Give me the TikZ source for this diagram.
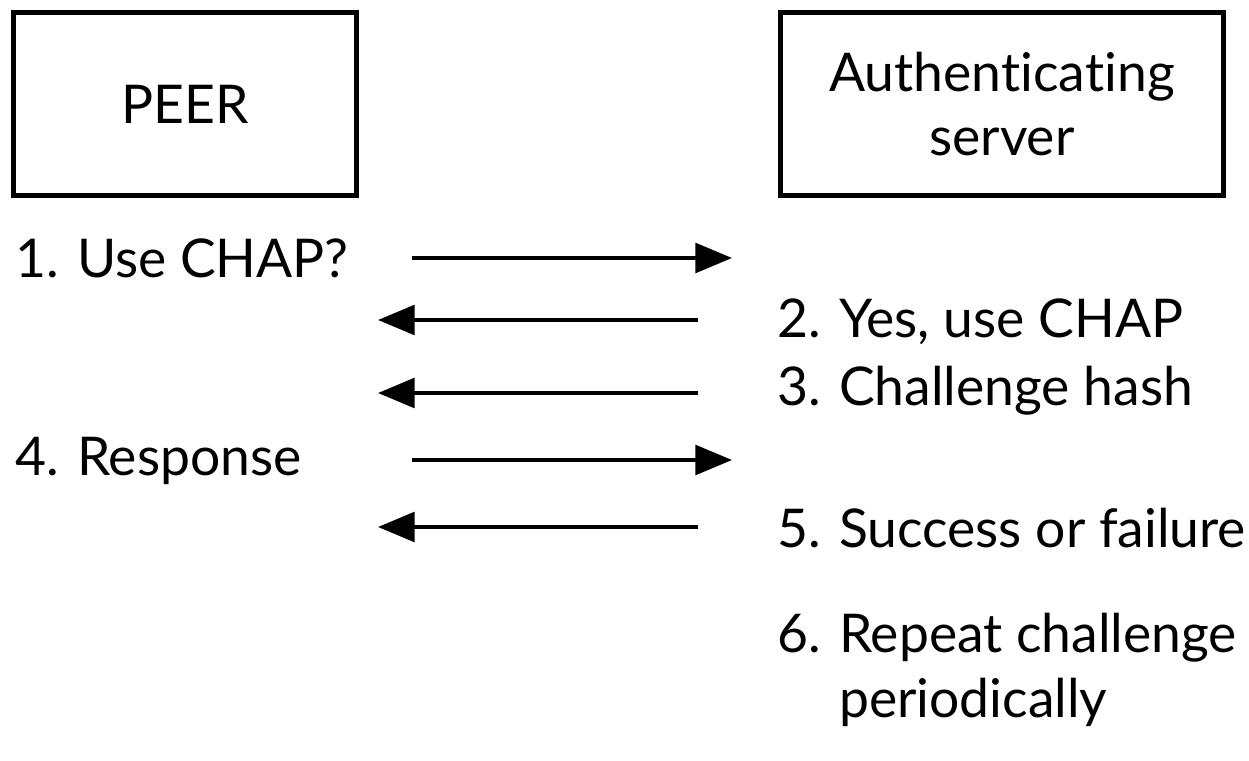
\documentclass[tikz,border=0pt]{standalone}
\usepackage{fontspec}
\setmainfont{Lato}[Ligatures=NoCommon]
\usetikzlibrary{positioning, arrows.meta}

\begin{document}
\begin{tikzpicture}[
    x=0.025cm, y=-0.025cm,
    every node/.style={align=center, inner sep=0pt, font=\fontsize{38}{46}\selectfont},
    party/.style={
        rectangle,
        draw,
        line width=3pt,
        minimum width=343*0.025cm,
        minimum height=183*0.025cm
    },
    msg/.style={anchor=west, align=left},
    arrow/.style = {draw, -{Triangle[length=26pt, width=21pt]}, line width=2.8pt}
]
    \useasboundingbox (0,0) rectangle (1249,761);
    % boxes
    \node [party] (peer) at (185,104) {PEER};
    \node [party, minimum width=443*0.025cm] (server) at (1002,104) {Authenticating\\server};
    % messages
    \node [msg] (m1) at (15,258) {1. Use CHAP?};
    \node [msg] (m2) at (777,322) {2. Yes, use CHAP};
    \node [msg] (m3) at (777,391) {3. Challenge hash};
    \node [msg] (m4) at (15,461) {4. Response};
    \node [msg] (m5) at (777,528) {5. Success or failure};
    \node [msg] (m6) at (777,670) {6. Repeat challenge\\\phantom{6. }periodically};
    % arrow ends
    \coordinate (l1) at (412,258);  \coordinate (r1) at (732,258);
    \coordinate (l2) at (378,320);  \coordinate (r2) at (698,320);
    \coordinate (l3) at (378,393);  \coordinate (r3) at (698,393);
    \coordinate (l4) at (412,460);  \coordinate (r4) at (732,460);
    \coordinate (l5) at (378,527);  \coordinate (r5) at (698,527);
    % arrows
    \draw [arrow] (l1) -- (r1);
    \draw [arrow] (r2) -- (l2);
    \draw [arrow] (r3) -- (l3);
    \draw [arrow] (l4) -- (r4);
    \draw [arrow] (r5) -- (l5);
\end{tikzpicture}
\end{document}
